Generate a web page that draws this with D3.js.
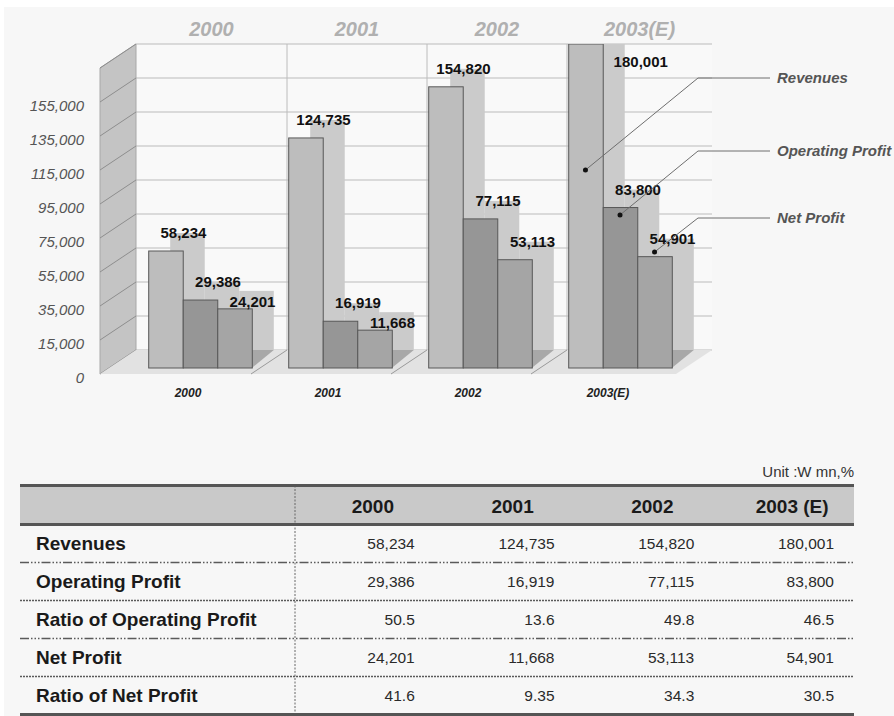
<!DOCTYPE html>
<html>
<head>
<meta charset="utf-8">
<script src="https://cdnjs.cloudflare.com/ajax/libs/d3/7.8.5/d3.min.js"></script>
<style>
    body { margin: 0; background: #fff; }
    svg { display: block; font-family: "Liberation Sans", Arial, sans-serif; }
</style>
</head>
<body>
<div id="chart"></div>
<script>
// data
var years = ["2000", "2001", "2002", "2003(E)"];
var tableYears = ["2000", "2001", "2002", "2003 (E)"];
var series = ["Revenues", "Operating Profit", "Net Profit"];
var revenues = [58234, 124735, 154820, 180001];
var operatingProfit = [29386, 16919, 77115, 83800];
var netProfit = [24201, 11668, 53113, 54901];
var ratioOperating = ["50.5", "13.6", "49.8", "46.5"];
var ratioNet = ["41.6", "9.35", "34.3", "30.5"];
var yTickLabels = ["0", "15,000", "35,000", "55,000", "75,000", "95,000", "115,000", "135,000", "155,000"];
var rowNames = ["Revenues", "Operating Profit", "Ratio of Operating Profit", "Net Profit", "Ratio of Net Profit"];

var seriesValues = [revenues, operatingProfit, netProfit];
var fmt = d3.format(",");

var width = 894, height = 716;

// 3d box
var wall = {left: 136, right: 712, top: 44, bottom: 350};
var depth = {dx: 36, dy: 24};      // side wall / floor
var barDepth = {dx: 22, dy: 18};   // bar prisms
var barBase = wall.bottom + barDepth.dy;

var fills = ["#bdbdbd", "#969696", "#a5a5a5"];

var svg = d3.select("#chart").append("svg")
    .attr("width", width)
    .attr("height", height);

svg.append("rect")
    .attr("x", 4).attr("y", 7)
    .attr("width", width - 4).attr("height", height - 7)
    .attr("fill", "#f7f7f7");

var yScale = d3.scaleLinear().domain([0, 180000]).range([wall.bottom, wall.top]);
var gridTicks = d3.range(0, 180001, 20000);

var x = d3.scaleBand().domain(years).range([130, 690]).paddingInner(0.26).paddingOuter(0.13);
var xs = d3.scaleBand().domain(series).range([0, x.bandwidth()]);
var bw = xs.bandwidth();

// group separators on the back wall
var seps = years.slice(1).map(function (d, i) {
    return (x(years[i]) + x.bandwidth() + x(d)) / 2 + 17;
});
var cols = [wall.left].concat(seps).concat([wall.right]);

// back wall
svg.append("rect")
    .attr("x", wall.left).attr("y", wall.top)
    .attr("width", wall.right - wall.left).attr("height", wall.bottom - wall.top)
    .attr("fill", "#f9f9f9");

svg.selectAll(".grid")
    .data(gridTicks)
    .enter().append("line")
    .attr("x1", wall.left).attr("x2", wall.right)
    .attr("y1", function (d) { return yScale(d); })
    .attr("y2", function (d) { return yScale(d); })
    .attr("stroke", "#bcbcbc")
    .attr("stroke-width", 1.2);

svg.selectAll(".vsep")
    .data(seps)
    .enter().append("line")
    .attr("x1", function (d) { return d; }).attr("x2", function (d) { return d; })
    .attr("y1", wall.top).attr("y2", wall.bottom)
    .attr("stroke", "#bcbcbc");

// side wall
svg.append("polygon")
    .attr("points", [
        [wall.left - depth.dx, wall.top + depth.dy],
        [wall.left, wall.top],
        [wall.left, wall.bottom],
        [wall.left - depth.dx, wall.bottom + depth.dy]
    ].join(" "))
    .attr("fill", "#c4c4c4")
    .attr("stroke", "#a8a8a8");

svg.selectAll(".sgrid")
    .data(gridTicks)
    .enter().append("line")
    .attr("x1", wall.left - depth.dx).attr("x2", wall.left)
    .attr("y1", function (d) { return yScale(d) + depth.dy; })
    .attr("y2", function (d) { return yScale(d); })
    .attr("stroke", "#8e8e8e");

// floor
svg.append("polygon")
    .attr("points", [
        [wall.left - depth.dx, wall.bottom + depth.dy],
        [wall.left, wall.bottom],
        [wall.right, wall.bottom],
        [wall.right - depth.dx, wall.bottom + depth.dy]
    ].join(" "))
    .attr("fill", "#e2e2e2");

svg.selectAll(".fsep")
    .data(seps)
    .enter().append("line")
    .attr("x1", function (d) { return d - depth.dx; }).attr("x2", function (d) { return d; })
    .attr("y1", wall.bottom + depth.dy).attr("y2", wall.bottom)
    .attr("stroke", "#9a9a9a");

// y labels (as printed on the original)
svg.selectAll(".ylab")
    .data(yTickLabels)
    .enter().append("text")
    .attr("x", 84)
    .attr("y", function (d, i) { return yScale(gridTicks[i]) + depth.dy + 4; })
    .attr("dy", "0.35em")
    .attr("text-anchor", "end")
    .style("font-size", "15px")
    .style("font-style", "italic")
    .attr("fill", "#555")
    .text(function (d) { return d; });

// headers over the wall
svg.selectAll(".yhead")
    .data(years)
    .enter().append("text")
    .attr("x", function (d, i) { return (cols[i] + cols[i + 1]) / 2; })
    .attr("y", 29)
    .attr("dy", "0.35em")
    .attr("text-anchor", "middle")
    .style("font-size", "20px")
    .style("font-weight", "bold")
    .style("font-style", "italic")
    .attr("fill", "#b0b0b0")
    .text(function (d) { return d; });

// bars
svg.append("clipPath").attr("id", "wallClip")
    .append("rect")
    .attr("x", 0).attr("y", wall.top)
    .attr("width", width).attr("height", barBase - wall.top + 10);

var bars = svg.append("g").attr("clip-path", "url(#wallClip)");

years.forEach(function (yr, gi) {
    var g = bars.append("g").attr("transform", "translate(" + x(yr) + ",0)");
    var x0 = 0, x1 = x.bandwidth();

    g.append("polygon")
        .attr("points", [
            [x0, barBase], [x1, barBase],
            [x1 + barDepth.dx, wall.bottom], [x0 + barDepth.dx, wall.bottom]
        ].join(" "))
        .attr("fill", "#a8a8a8");

    series.forEach(function (s, si) {
        var v = seriesValues[si][gi];
        g.append("rect")
            .attr("x", xs(s) + barDepth.dx)
            .attr("y", yScale(v) - barDepth.dy)
            .attr("width", bw)
            .attr("height", wall.bottom - yScale(v) + barDepth.dy)
            .attr("fill", "#cbcbcb");
    });

    series.forEach(function (s, si) {
        var v = seriesValues[si][gi];
        g.append("rect")
            .attr("x", xs(s) + 0.5)
            .attr("y", Math.max(yScale(v), wall.top))
            .attr("width", bw)
            .attr("height", barBase - Math.max(yScale(v), wall.top))
            .attr("fill", fills[si])
            .attr("stroke", "#585858")
            .attr("stroke-width", 1);
    });
});

// value labels
years.forEach(function (yr, gi) {
    var prevY = null;
    series.forEach(function (s, si) {
        var v = seriesValues[si][gi];
        var cx = x(yr) + xs(s) + bw / 2 + 18;
        var cy = yScale(v) - 18;
        if (cy - 8 < wall.top) {
            // no room above: put it beside the bar
            cx = x(yr) + xs(s) + bw + barDepth.dx + 16;
            cy = wall.top + 18;
        }
        // step down when it would sit on the label of the bar before
        if (prevY !== null && Math.abs(cy - prevY) < 18) {
            cy = prevY + 20;
        }
        prevY = cy;
        svg.append("text")
            .attr("x", cx)
            .attr("y", cy)
            .attr("dy", "0.35em")
            .attr("text-anchor", "middle")
            .style("font-size", "15px")
            .style("font-weight", "bold")
            .attr("fill", "#111")
            .text(fmt(v));
    });
});

// x labels
svg.selectAll(".xlab")
    .data(years)
    .enter().append("text")
    .attr("x", function (d) { return x(d) + x.bandwidth() / 2 - 12; })
    .attr("y", 393)
    .attr("dy", "0.35em")
    .attr("text-anchor", "middle")
    .style("font-size", "12px")
    .style("font-weight", "bold")
    .style("font-style", "italic")
    .attr("fill", "#222")
    .text(function (d) { return d; });

// callouts pointing into the last group
var legendY = [78, 151, 218];
var legendDrop = [92, 64, 34];
var lastYear = years[years.length - 1];
series.forEach(function (s, si) {
    var dx = x(lastYear) + xs(s) + bw / 2;
    var dy = legendY[si] + legendDrop[si];
    svg.append("polyline")
        .attr("points", [[dx, dy], [698, legendY[si]], [770, legendY[si]]].join(" "))
        .attr("fill", "none")
        .attr("stroke", "#6e6e6e")
        .attr("stroke-width", 1);
    svg.append("circle")
        .attr("cx", dx).attr("cy", dy).attr("r", 2.5)
        .attr("fill", "#111");
    svg.append("text")
        .attr("x", 777)
        .attr("y", legendY[si])
        .attr("dy", "0.35em")
        .style("font-size", "15px")
        .style("font-weight", "bold")
        .style("font-style", "italic")
        .attr("fill", "#555")
        .text(s);
});

// table
var tLeft = 20, tRight = 854, tTop = 485.5, headH = 39, rowH = 38;
var firstCol = 295;
var colW = (tRight - firstCol) / tableYears.length;

var rows = [
    revenues.map(fmt),
    operatingProfit.map(fmt),
    ratioOperating,
    netProfit.map(fmt),
    ratioNet
];

svg.append("text")
    .attr("x", tRight)
    .attr("y", 472)
    .attr("dy", "0.35em")
    .attr("text-anchor", "end")
    .style("font-size", "15px")
    .attr("fill", "#333")
    .text("Unit :W mn,%");

svg.append("rect")
    .attr("x", tLeft).attr("y", tTop)
    .attr("width", tRight - tLeft).attr("height", headH)
    .attr("fill", "#c9c9c9");

var rowLineY = d3.range(rows.length + 1).map(function (i) { return tTop + headH + i * rowH; });

svg.append("line")
    .attr("x1", firstCol).attr("x2", firstCol)
    .attr("y1", tTop).attr("y2", rowLineY[rows.length])
    .attr("stroke", "#666")
    .attr("stroke-dasharray", "2 1.5");

[tTop, tTop + headH, rowLineY[rows.length]].forEach(function (yy) {
    svg.append("line")
        .attr("x1", tLeft).attr("x2", tRight)
        .attr("y1", yy).attr("y2", yy)
        .attr("stroke", "#555")
        .attr("stroke-width", 3);
});

rowLineY.slice(1, rows.length).forEach(function (yy, i) {
    svg.append("line")
        .attr("x1", tLeft).attr("x2", tRight)
        .attr("y1", yy).attr("y2", yy)
        .attr("stroke", "#5a5a5a")
        .attr("stroke-width", 1.5)
        .attr("stroke-dasharray", i % 2 === 0 ? "9 2 1.5 2 1.5 2 1.5 2" : "2 1");
});

svg.selectAll(".thead")
    .data(tableYears)
    .enter().append("text")
    .attr("x", function (d, i) { return firstCol + colW * i + colW / 2 + 8; })
    .attr("y", tTop + headH / 2 + 1)
    .attr("dy", "0.35em")
    .attr("text-anchor", "middle")
    .style("font-size", "19px")
    .style("font-weight", "bold")
    .attr("fill", "#1a1a1a")
    .text(function (d) { return d; });

rows.forEach(function (r, ri) {
    var cy = rowLineY[ri] + rowH / 2;
    svg.append("text")
        .attr("x", 36)
        .attr("y", cy)
        .attr("dy", "0.35em")
        .style("font-size", "19px")
        .style("font-weight", "bold")
        .attr("fill", "#1a1a1a")
        .text(rowNames[ri]);
    r.forEach(function (v, ci) {
        svg.append("text")
            .attr("x", firstCol + colW * (ci + 1) - 20)
            .attr("y", cy)
            .attr("dy", "0.35em")
            .attr("text-anchor", "end")
            .style("font-size", "15.5px")
            .attr("fill", "#2a2a2a")
            .text(v);
    });
});
</script>
</body>
</html>
